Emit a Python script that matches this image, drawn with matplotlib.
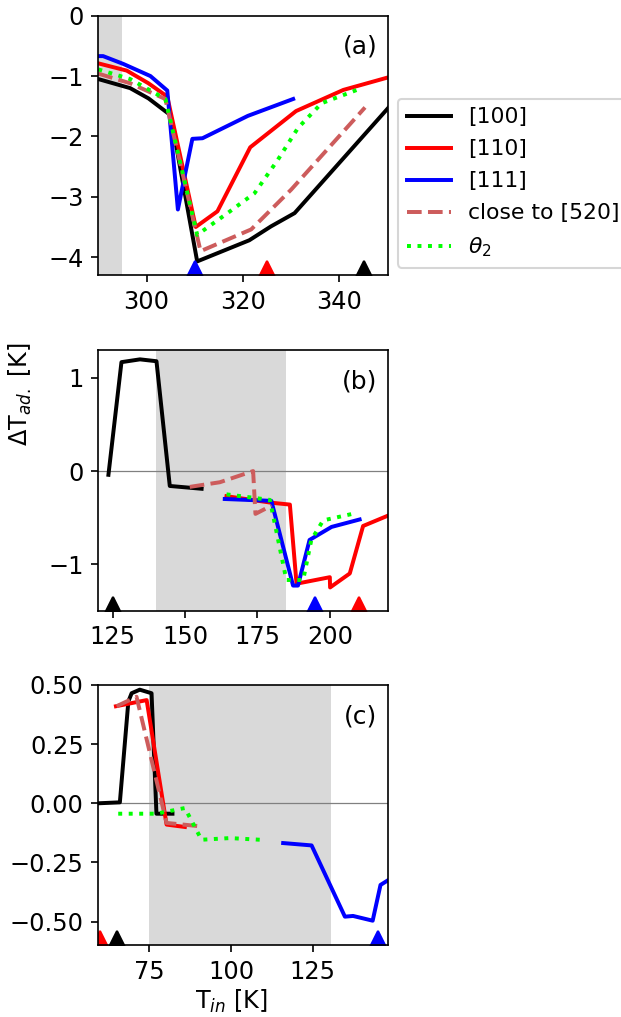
import numpy as np
import matplotlib
matplotlib.use("Agg")
import matplotlib.pyplot as plt

# panel (a)
a_T100 = [290, 296.6, 300.4, 305, 310.5, 321.3, 325.8, 330.7, 350.2]
a_100 = [-1.05, -1.20, -1.37, -1.65, -4.07, -3.72, -3.49, -3.27, -1.52]
a_T110 = [290, 295.9, 300.4, 304.3, 310.2, 314.7, 321.5, 331, 340.8, 350.2]
a_110 = [-0.79, -0.91, -1.12, -1.34, -3.50, -3.24, -2.18, -1.58, -1.23, -1.02]
a_T111 = [290, 291, 295.2, 300.8, 304.3, 306.5, 309.5, 311.6, 321, 330.4]
a_111 = [-0.67, -0.67, -0.80, -1.00, -1.24, -3.21, -2.04, -2.03, -1.66, -1.38]
a_T520 = [290, 296.6, 303.9, 311.2, 321.7, 330, 345.3]
a_520 = [-0.96, -1.12, -1.38, -3.90, -3.54, -2.88, -1.52]
a_Tth = [290, 296.6, 303.9, 310.5, 316.8, 322.4, 327.2, 331.4, 336.3, 344.6]
a_th = [-0.89, -1.05, -1.38, -3.63, -3.27, -2.94, -2.39, -1.86, -1.45, -1.20]
a_span = (289, 295)
a_marks = {'b': 310, 'r': 325, 'k': 345}

# panel (b)
b_T100 = [123.5, 128, 134.4, 140.1, 144.7, 155.7]
b_100 = [-0.04, 1.17, 1.20, 1.18, -0.16, -0.19]
b_T110 = [164.3, 179.8, 186.2, 188.5, 200, 200.1, 206.9, 211.5, 220]
b_110 = [-0.27, -0.34, -0.36, -1.21, -1.14, -1.25, -1.10, -0.59, -0.48]
b_T111 = [163.7, 179.8, 187.3, 189, 193, 200.6, 210.3]
b_111 = [-0.30, -0.32, -1.23, -1.23, -0.74, -0.60, -0.52]
b_T520 = [151.6, 162, 173.5, 174.3, 179.9]
b_520 = [-0.17, -0.12, 0.0, -0.46, -0.37]
b_Tth = [164.3, 179.3, 185, 190.8, 193.6, 197.7, 209.2]
b_th = [-0.25, -0.31, -1.17, -1.17, -0.74, -0.53, -0.45]
b_span = (140, 185)
b_marks = {'k': 125, 'b': 195, 'r': 210}

# panel (c)
c_T100 = [59.4, 66, 68.6, 69.6, 72.1, 75.7, 77.2, 82.1]
c_100 = [0.0, 0.004, 0.43, 0.465, 0.48, 0.465, -0.044, -0.044]
c_T110 = [64.8, 74.2, 80.3, 85.9]
c_110 = [0.41, 0.436, -0.09, -0.10]
c_T111 = [116, 124.7, 134.9, 137.4, 143.4, 145.8, 148]
c_111 = [-0.168, -0.178, -0.479, -0.476, -0.496, -0.345, -0.326]
c_T520 = [65, 71.1, 80.3, 90.5]
c_520 = [0.41, 0.45, -0.083, -0.097]
c_Tth = [65.5, 77.2, 85.9, 91, 99.7, 108.9]
c_th = [-0.044, -0.044, -0.02, -0.154, -0.147, -0.154]
c_span = (75, 130.5)
c_marks = {'r': 60, 'k': 65, 'b': 145}

plt.rcParams['font.size'] = 11.5
lw = 1.9

fig = plt.figure(figsize=(4.14, 6.78), dpi=150)
ax1 = fig.add_axes([0.1583, 0.7293, 0.466, 0.2553])
ax2 = fig.add_axes([0.1583, 0.3995, 0.466, 0.2563])
ax3 = fig.add_axes([0.1583, 0.0705, 0.466, 0.2560])

def draw(ax, d, span, marks):
    ax.axvspan(*span, color='#d9d9d9', lw=0, zorder=0)
    ax.plot(d[0], d[1], color='k', lw=lw, label='[100]')
    ax.plot(d[2], d[3], color='r', lw=lw, label='[110]')
    ax.plot(d[4], d[5], color='b', lw=lw, label='[111]')
    ax.plot(d[6], d[7], color='indianred', lw=lw, ls='--', label='close to [520]')
    ax.plot(d[8], d[9], color='lime', lw=lw, ls=':', label=r'$\theta_2$')
    for c, t in marks.items():
        ax.plot([t], [0.027], marker='^', ms=7, color=c, ls='none',
                transform=ax.get_xaxis_transform())

draw(ax1, [a_T100, a_100, a_T110, a_110, a_T111, a_111, a_T520, a_520, a_Tth, a_th], a_span, a_marks)
draw(ax2, [b_T100, b_100, b_T110, b_110, b_T111, b_111, b_T520, b_520, b_Tth, b_th], b_span, b_marks)
draw(ax3, [c_T100, c_100, c_T110, c_110, c_T111, c_111, c_T520, c_520, c_Tth, c_th], c_span, c_marks)

ax1.set_xlim(290, 350)
ax1.set_ylim(-4.3, 0)
ax1.set_xticks([300, 320, 340])
ax1.set_yticks([0, -1, -2, -3, -4])

ax2.axhline(0, color='gray', lw=0.6, zorder=1)
ax2.set_xlim(120, 220)
ax2.set_ylim(-1.5, 1.3)
ax2.set_xticks([125, 150, 175, 200])
ax2.set_yticks([1, 0, -1])
ax2.set_ylabel(r'ΔT$_{ad.}$ [K]')
ax2.yaxis.set_label_coords(-0.222, 0.83)

ax3.axhline(0, color='gray', lw=0.6, zorder=1)
ax3.set_xlim(59.4, 148)
ax3.set_ylim(-0.6, 0.5)
ax3.set_xticks([75, 100, 125])
ax3.set_yticks([0.5, 0.25, 0, -0.25, -0.5])
ax3.set_xlabel(r'T$_{in}$ [K]', labelpad=2)
ax3.xaxis.label.set_x(0.459)

for ax, lab in zip([ax1, ax2, ax3], ['(a)', '(b)', '(c)']):
    ax.text(0.965, 0.88, lab, transform=ax.transAxes, ha='right', va='center', fontsize=12)

ax1.legend(loc='center left', bbox_to_anchor=(1.036, 0.355), borderaxespad=0,
           fontsize=10.5, labelspacing=0.55)

fig.savefig('out.png', dpi=150)
